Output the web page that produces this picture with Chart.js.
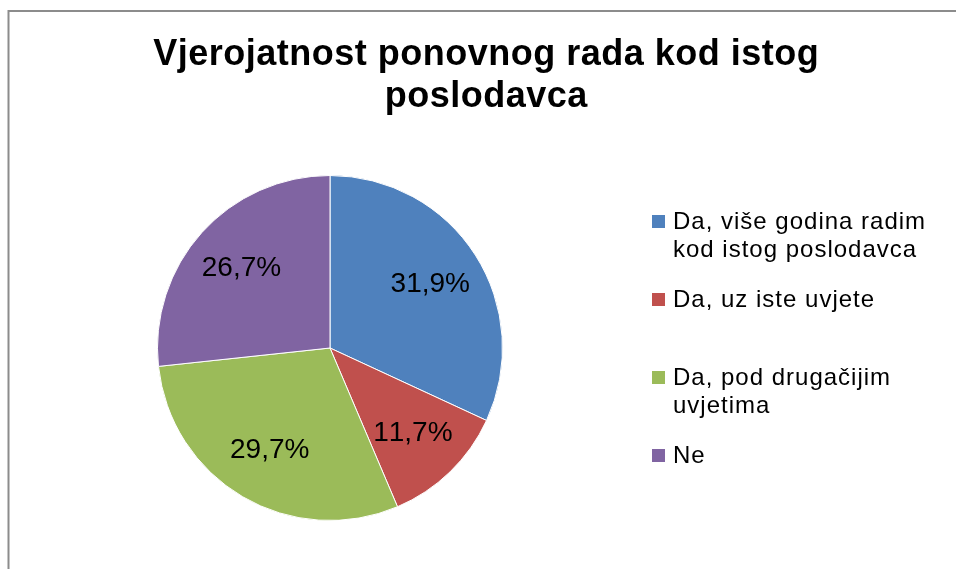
<!DOCTYPE html>
<html>
<head>
<meta charset="utf-8">
<script src="https://cdn.jsdelivr.net/npm/chart.js@4.4.0/dist/chart.umd.min.js"></script>
<style>
  html, body { margin: 0; padding: 0; background: #fff; }
  #wrap { width: 956px; height: 569px; position: relative; }
</style>
</head>
<body>
<div id="wrap"><canvas id="c" width="956" height="569"></canvas></div>
<script>
const titleLines = ["Vjerojatnost ponovnog rada kod istog", "poslodavca"];
const categories = ["Da, više godina radim kod istog poslodavca", "Da, uz iste uvjete", "Da, pod drugačijim uvjetima", "Ne"];
const values = [31.9, 11.7, 29.7, 26.7];
const colors = ["#4F81BD", "#C0504D", "#9BBB59", "#8064A2"];

const FONT = "'Liberation Sans', Arial, sans-serif";

function fmt(v) { return v.toFixed(1).replace('.', ',') + '%'; }

function spacedWidth(ctx, text, sp) {
  let w = 0;
  for (const ch of text) w += ctx.measureText(ch).width + sp;
  return w - sp;
}
function drawSpaced(ctx, text, x, y, sp, align) {
  const w = spacedWidth(ctx, text, sp);
  let cx = align === 'center' ? x - w / 2 : x;
  const prev = ctx.textAlign;
  ctx.textAlign = 'left';
  for (const ch of text) {
    ctx.fillText(ch, cx, y);
    cx += ctx.measureText(ch).width + sp;
  }
  ctx.textAlign = prev;
}

const decorPlugin = {
  id: 'decor',
  beforeDraw(chart) {
    const ctx = chart.ctx;
    ctx.save();
    ctx.fillStyle = '#fff';
    ctx.fillRect(0, 0, chart.width, chart.height);
    ctx.strokeStyle = '#8c8c8c';
    ctx.lineWidth = 2;
    ctx.strokeRect(8.5, 11, 1200, 1200);
    ctx.restore();
  },
  afterDraw(chart) {
    const ctx = chart.ctx;
    ctx.save();
    // title
    ctx.fillStyle = '#000';
    ctx.font = 'bold 36px ' + FONT;
    ctx.textBaseline = 'alphabetic';
    titleLines.forEach((t, i) => drawSpaced(ctx, t, 486, 65 + i * 42, 0.5, 'center'));

    // data labels
    const meta = chart.getDatasetMeta(0);
    ctx.font = '28px ' + FONT;
    ctx.textBaseline = 'middle';
    meta.data.forEach((arc, i) => {
      const p = arc.getProps(['x', 'y', 'startAngle', 'endAngle', 'outerRadius'], true);
      const mid = (p.startAngle + p.endAngle) / 2;
      const r = p.outerRadius * 0.69;
      drawSpaced(ctx, fmt(chart.data.datasets[0].data[i]), p.x + Math.cos(mid) * r, p.y + Math.sin(mid) * r, 0, 'center');
    });

    // legend
    ctx.font = '24px ' + FONT;
    ctx.textBaseline = 'alphabetic';
    const sp = 1;
    const maxW = 265;
    chart.data.labels.forEach((label, i) => {
      const words = label.split(' ');
      const lines = [];
      let cur = '';
      words.forEach(w => {
        const test = cur ? cur + ' ' + w : w;
        if (spacedWidth(ctx, test, sp) > maxW && cur) { lines.push(cur); cur = w; }
        else cur = test;
      });
      if (cur) lines.push(cur);
      const base = 229 + i * 78;
      ctx.fillStyle = chart.data.datasets[0].backgroundColor[i];
      ctx.fillRect(652, base - 14, 13, 13);
      ctx.fillStyle = '#000';
      lines.forEach((ln, j) => drawSpaced(ctx, ln, 673, base + j * 28, sp, 'left'));
    });
    ctx.restore();
  }
};

new Chart(document.getElementById('c'), {
  type: 'pie',
  data: {
    labels: categories,
    datasets: [{
      data: values,
      backgroundColor: colors,
      borderColor: '#ffffff',
      borderWidth: 1,
      hoverOffset: 0
    }]
  },
  options: {
    responsive: false,
    animation: false,
    layout: { padding: { left: 157, right: 453, top: 175, bottom: 48 } },
    plugins: {
      legend: { display: false },
      title: { display: false },
      tooltip: { enabled: false }
    }
  },
  plugins: [decorPlugin]
});
</script>
</body>
</html>
